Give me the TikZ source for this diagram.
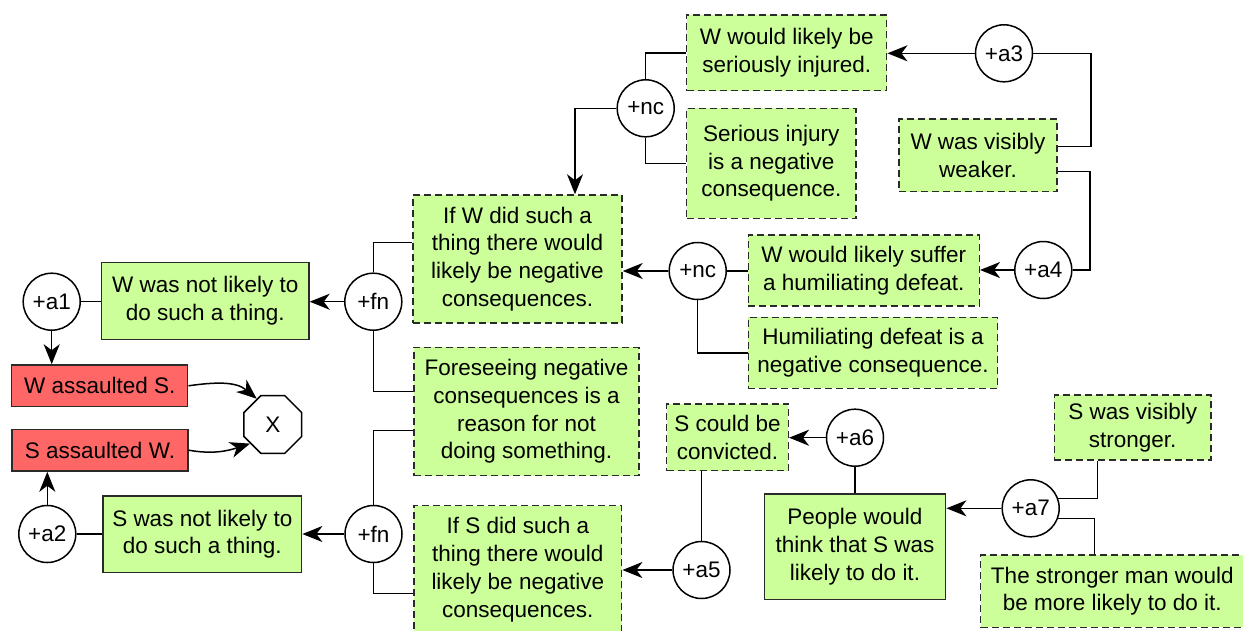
\documentclass[tikz,border=0pt]{standalone}
\usepackage{fontspec}
\setmainfont{Liberation Sans}
\usetikzlibrary{arrows.meta,shapes.geometric}

\definecolor{claimgreen}{HTML}{CCFF99}
\definecolor{factred}{HTML}{FF6666}
\definecolor{edgegray}{HTML}{2A2A2A}

\tikzset{
  every node/.style={font=\fontsize{22.5}{27.7}\selectfont, align=center, inner sep=0pt},
  argcircle/.style={circle, draw=black, fill=white, line width=1.5pt, minimum size=57pt},
  premise/.style={rectangle, draw=edgegray, fill=claimgreen, line width=1.5pt,
                  execute at begin node={\rule{0pt}{22.5pt}}},
  assumption/.style={premise, dash pattern=on 7pt off 4pt},
  fact/.style={rectangle, draw=edgegray, fill=factred, line width=1.5pt},
  clash/.style={regular polygon, regular polygon sides=8, draw=black, fill=white,
                line width=1.5pt, minimum size=62.5pt},
  link/.style={line width=1.5pt, draw=black},
  support/.style={link, -{Stealth[length=20pt,width=16pt,inset=6pt]}},
  box/.style 2 args={minimum width=#1pt, minimum height=#2pt},
}

\begin{document}
\begin{tikzpicture}[x=1pt, y=-1pt]
\useasboundingbox (0,0) rectangle (1243,630);
\clip (0,0) rectangle (1243,630);

% statements
\node[premise, box={207.3}{76.6}] (wnot) at (205.3,301) {W was not likely to\\do such a thing.};
\node[premise, box={198.7}{76.3}] (snot) at (202.3,534.2) {S was not likely to\\do such a thing.};
\node[fact, box={176}{41.7}] (wass) at (99.7,385.8) {W assaulted S.};
\node[fact, box={176}{41.7}] (sass) at (100,450.2) {S assaulted W.};
\node[clash] (X) at (272.8,424.5) {X};

\node[assumption, box={209}{128}] (ifw) at (517.5,259) {If W did such a\\thing there would\\likely be negative\\consequences.};
\node[assumption, box={225}{128.4}] (fore) at (526.5,411.5) {Foreseeing negative\\consequences is a\\reason for not\\doing something.};
\node[assumption, box={207.7}{128}] (ifs) at (517.8,569.7) {If S did such a\\thing there would\\likely be negative\\consequences.};

\node[assumption, box={200}{75.7}] (wser) at (786.7,52.8) {W would likely be\\seriously injured.};
\node[assumption, box={169.3}{110}] (sinj) at (771.3,163.3) {Serious injury\\is a negative\\consequence.};
\node[assumption, box={158}{72.7}] (wweak) at (978,155.3) {W was visibly\\weaker.};
\node[assumption, box={231}{71}] (whum) at (863.8,270.5) {W would likely suffer\\a humiliating defeat.};
\node[assumption, box={249.4}{71}] (hdef) at (873,352.8) {Humiliating defeat is a\\negative consequence.};

\node[assumption, box={121.6}{66.7}] (conv) at (727.5,437.3) {S could be\\convicted.};
\node[premise, box={181.4}{105.3}] (people) at (855,546.7) {People would\\think that S was\\likely to do it.};
\node[assumption, box={156.7}{65}] (sstr) at (1132.7,427.5) {S was visibly\\stronger.};
\node[assumption, box={263.3}{72.3}] (stronger) at (1112.3,591.2) {The stronger man would\\be more likely to do it.};

% argument nodes
\node[argcircle] (a1) at (51.7,301.7) {+a1};
\node[argcircle] (a2) at (47.3,534) {+a2};
\node[argcircle] (fnU) at (373.3,301.7) {+fn};
\node[argcircle] (fnL) at (373.5,534) {+fn};
\node[argcircle] (ncU) at (645.7,108.3) {+nc};
\node[argcircle] (ncL) at (697.7,271) {+nc};
\node[argcircle] (a3) at (1004,53.3) {+a3};
\node[argcircle] (a4) at (1043.3,270) {+a4};
\node[argcircle] (a5) at (701.5,570) {+a5};
\node[argcircle] (a6) at (855,437.7) {+a6};
\node[argcircle] (a7) at (1030.7,508.3) {+a7};

% left part
\draw[link] (a1.east) -- (wnot.west |- a1.east);
\draw[support] (a1.south) -- (a1.south |- wass.north);
\draw[link] (a2.east) -- (snot.west |- a2.east);
\draw[support] (a2.north) -- (a2.north |- sass.south);
\draw[support] (wass.east) to[out=8, in=140] (X.122);
\draw[support] (sass.east) to[out=-10, in=198] (X.220);

% +fn arguments
\draw[support] (fnU.west) -- (wnot.east |- fnU.west);
\draw[link] (fnU.north) |- ([yshift=16.3pt]ifw.west);
\draw[link] (fnU.south) |- ([yshift=19.8pt]fore.west);
\draw[support] (fnL.west) -- (snot.east |- fnL.west);
\draw[link] (fnL.north) |- ([yshift=-19.2pt]fore.west);
\draw[link] (fnL.south) |- ([yshift=-23.6pt]ifs.west);

% +nc arguments
\draw[support] (ncU.west) -| ([xshift=57.5pt]ifw.north);
\draw[link] (ncU.north) |- (wser.west);
\draw[link] (ncU.south) |- (sinj.west);
\draw[support] (ncL.west) -- (ifw.east |- ncL.west);
\draw[link] (ncL.east) -- (whum.west |- ncL.east);
\draw[link] (ncL.south) |- (hdef.west);

% +a3, +a4
\draw[support] (a3.west) -- (wser.east |- a3.west);
\draw[link] (a3.east) -- ++(57.5,0) |- ([yshift=8.6pt]wweak.east);
\draw[support] (a4.west) -- (whum.east |- a4.west);
\draw[link] (a4.east) -- ++(17.2,0) |- ([yshift=-16.4pt]wweak.east);

% +a5, +a6, +a7
\draw[support] (a5.west) -- (ifs.east |- a5.west);
\draw[link] (a5.north) -- (a5.north |- conv.south);
\draw[support] (a6.west) -- (conv.east |- a6.west);
\draw[link] (a6.south) -- (people.north);
\draw[support] (a7.west) -- (people.east |- a7.west);
\draw[link] (a7.20) -| ([xshift=-35pt]sstr.south);
\draw[link] (a7.-20) -| ([xshift=-18pt]stronger.north);
\end{tikzpicture}
\end{document}
